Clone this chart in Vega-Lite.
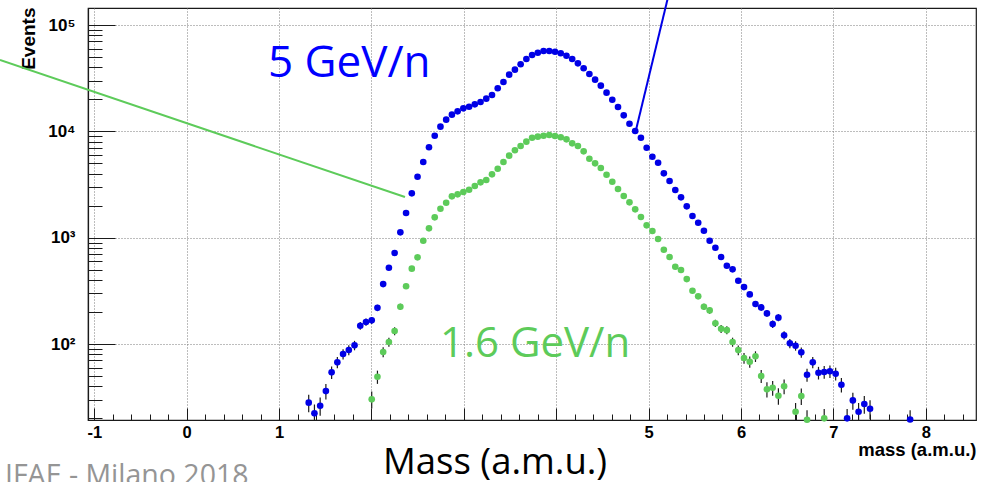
{
  "$schema": "https://vega.github.io/schema/vega-lite/v6.json",
  "width": 888,
  "height": 412,
  "autosize": {"type": "none"},
  "padding": {"left": 88, "top": 8, "right": 10, "bottom": 62},
  "background": "white",
  "config": {
    "view": {"stroke": "#1a1a1a", "strokeWidth": 1.2},
    "axis": {
      "labelFont": "Liberation Sans", "labelFontWeight": "bold", "labelColor": "#000000",
      "titleFont": "Liberation Sans", "titleFontWeight": "bold", "titleColor": "#000000",
      "domainColor": "#1a1a1a", "domainWidth": 1.2, "tickColor": "#1a1a1a", "tickWidth": 1,
      "gridColor": "#7a7a7a", "gridDash": [1, 2], "gridWidth": 1, "gridOpacity": 1
    }
  },
  "datasets": {
    "hist": [
      {"s":"b","x":1.321,"y":28.1,"lo":22.8,"hi":33.4},
      {"s":"b","x":1.383,"y":22.3,"lo":17.6,"hi":27.0},
      {"s":"b","x":1.445,"y":26.3,"lo":21.2,"hi":31.4},
      {"s":"b","x":1.507,"y":36.1,"lo":30.1,"hi":42.1},
      {"s":"b","x":1.569,"y":54.2,"lo":46.8,"hi":61.6},
      {"s":"b","x":1.631,"y":67.3,"lo":59.1,"hi":75.5},
      {"s":"b","x":1.693,"y":80.5,"lo":71.5,"hi":89.5},
      {"s":"b","x":1.755,"y":87.8,"lo":78.4,"hi":97.2},
      {"s":"b","x":1.817,"y":97.2,"lo":87.3,"hi":107.1},
      {"s":"b","x":1.879,"y":148.6,"lo":136.4,"hi":160.8},
      {"s":"b","x":1.941,"y":161,"lo":148.3,"hi":173.7},
      {"s":"b","x":2.003,"y":167,"lo":154.1,"hi":179.9},
      {"s":"b","x":2.065,"y":219,"lo":204.2,"hi":233.8},
      {"s":"b","x":2.127,"y":366},
      {"s":"b","x":2.189,"y":521},
      {"s":"b","x":2.251,"y":717},
      {"s":"b","x":2.313,"y":1122},
      {"s":"b","x":2.375,"y":1706},
      {"s":"b","x":2.437,"y":2612},
      {"s":"b","x":2.499,"y":3742},
      {"s":"b","x":2.561,"y":5150},
      {"s":"b","x":2.623,"y":7080},
      {"s":"b","x":2.685,"y":9100},
      {"s":"b","x":2.747,"y":11060},
      {"s":"b","x":2.809,"y":12870},
      {"s":"b","x":2.871,"y":14350},
      {"s":"b","x":2.933,"y":15420},
      {"s":"b","x":2.995,"y":16450},
      {"s":"b","x":3.057,"y":17050},
      {"s":"b","x":3.119,"y":17950},
      {"s":"b","x":3.181,"y":18870},
      {"s":"b","x":3.243,"y":20280},
      {"s":"b","x":3.305,"y":21970},
      {"s":"b","x":3.367,"y":25400},
      {"s":"b","x":3.429,"y":29100},
      {"s":"b","x":3.491,"y":34100},
      {"s":"b","x":3.553,"y":38000},
      {"s":"b","x":3.615,"y":42700},
      {"s":"b","x":3.677,"y":47900},
      {"s":"b","x":3.739,"y":52200},
      {"s":"b","x":3.801,"y":54900},
      {"s":"b","x":3.863,"y":56900},
      {"s":"b","x":3.925,"y":56900},
      {"s":"b","x":3.987,"y":56100},
      {"s":"b","x":4.049,"y":54200},
      {"s":"b","x":4.111,"y":51400},
      {"s":"b","x":4.173,"y":47900},
      {"s":"b","x":4.235,"y":43600},
      {"s":"b","x":4.297,"y":39200},
      {"s":"b","x":4.359,"y":34600},
      {"s":"b","x":4.421,"y":30600},
      {"s":"b","x":4.483,"y":26900},
      {"s":"b","x":4.545,"y":23100},
      {"s":"b","x":4.607,"y":19840},
      {"s":"b","x":4.669,"y":16940},
      {"s":"b","x":4.731,"y":14150},
      {"s":"b","x":4.793,"y":11800},
      {"s":"b","x":4.855,"y":10070},
      {"s":"b","x":4.917,"y":8710},
      {"s":"b","x":4.979,"y":7010},
      {"s":"b","x":5.041,"y":5770},
      {"s":"b","x":5.103,"y":5070},
      {"s":"b","x":5.165,"y":4030},
      {"s":"b","x":5.227,"y":3410},
      {"s":"b","x":5.289,"y":2806},
      {"s":"b","x":5.351,"y":2397},
      {"s":"b","x":5.413,"y":1972},
      {"s":"b","x":5.475,"y":1599},
      {"s":"b","x":5.537,"y":1383},
      {"s":"b","x":5.599,"y":1162},
      {"s":"b","x":5.661,"y":936},
      {"s":"b","x":5.723,"y":805},
      {"s":"b","x":5.785,"y":658},
      {"s":"b","x":5.847,"y":545},
      {"s":"b","x":5.909,"y":504},
      {"s":"b","x":5.971,"y":394},
      {"s":"b","x":6.033,"y":343},
      {"s":"b","x":6.095,"y":293},
      {"s":"b","x":6.157,"y":238,"lo":222.6,"hi":253.4},
      {"s":"b","x":6.219,"y":221,"lo":206.1,"hi":235.9},
      {"s":"b","x":6.281,"y":194,"lo":180.1,"hi":207.9},
      {"s":"b","x":6.343,"y":154,"lo":141.6,"hi":166.4},
      {"s":"b","x":6.405,"y":177,"lo":163.7,"hi":190.3},
      {"s":"b","x":6.467,"y":121,"lo":110.0,"hi":132.0},
      {"s":"b","x":6.529,"y":101.5,"lo":91.4,"hi":111.6},
      {"s":"b","x":6.591,"y":96.4,"lo":86.6,"hi":106.2},
      {"s":"b","x":6.653,"y":83.5,"lo":74.4,"hi":92.6},
      {"s":"b","x":6.715,"y":51.4,"lo":44.2,"hi":58.6},
      {"s":"b","x":6.777,"y":67.3,"lo":59.1,"hi":75.5},
      {"s":"b","x":6.839,"y":53.7,"lo":46.4,"hi":61.0},
      {"s":"b","x":6.901,"y":54.6,"lo":47.2,"hi":62.0},
      {"s":"b","x":6.963,"y":55.4,"lo":48.0,"hi":62.8},
      {"s":"b","x":7.025,"y":52.6,"lo":45.3,"hi":59.9},
      {"s":"b","x":7.087,"y":41.4,"lo":35.0,"hi":47.8},
      {"s":"b","x":7.149,"y":20.0,"lo":15.5,"hi":24.5},
      {"s":"b","x":7.211,"y":29.5,"lo":24.1,"hi":34.9},
      {"s":"b","x":7.273,"y":23.1,"lo":18.3,"hi":27.9},
      {"s":"b","x":7.335,"y":27.3,"lo":22.1,"hi":32.5},
      {"s":"b","x":7.397,"y":24.6,"lo":19.6,"hi":29.6},
      {"s":"b","x":7.831,"y":19.5,"lo":15.1,"hi":23.9},
      {"s":"g","x":2.003,"y":30.2,"lo":24.7,"hi":35.7},
      {"s":"g","x":2.065,"y":49.2,"lo":42.2,"hi":56.2},
      {"s":"g","x":2.127,"y":84.1,"lo":74.9,"hi":93.3},
      {"s":"g","x":2.189,"y":104.4,"lo":94.2,"hi":114.6},
      {"s":"g","x":2.251,"y":132.6,"lo":121.1,"hi":144.1},
      {"s":"g","x":2.313,"y":224,"lo":209,"hi":239},
      {"s":"g","x":2.375,"y":349},
      {"s":"g","x":2.437,"y":511},
      {"s":"g","x":2.499,"y":653},
      {"s":"g","x":2.561,"y":936},
      {"s":"g","x":2.623,"y":1224},
      {"s":"g","x":2.685,"y":1554},
      {"s":"g","x":2.747,"y":1871},
      {"s":"g","x":2.809,"y":2133},
      {"s":"g","x":2.871,"y":2449},
      {"s":"g","x":2.933,"y":2557},
      {"s":"g","x":2.995,"y":2687},
      {"s":"g","x":3.057,"y":2825},
      {"s":"g","x":3.119,"y":3060},
      {"s":"g","x":3.181,"y":3314},
      {"s":"g","x":3.243,"y":3484},
      {"s":"g","x":3.305,"y":3943},
      {"s":"g","x":3.367,"y":4453},
      {"s":"g","x":3.429,"y":5150},
      {"s":"g","x":3.491,"y":5906},
      {"s":"g","x":3.553,"y":6633},
      {"s":"g","x":3.615,"y":7278},
      {"s":"g","x":3.677,"y":7994},
      {"s":"g","x":3.739,"y":8710},
      {"s":"g","x":3.801,"y":8910},
      {"s":"g","x":3.863,"y":9100},
      {"s":"g","x":3.925,"y":9230},
      {"s":"g","x":3.987,"y":9030},
      {"s":"g","x":4.049,"y":8790},
      {"s":"g","x":4.111,"y":8410},
      {"s":"g","x":4.173,"y":7710},
      {"s":"g","x":4.235,"y":7278},
      {"s":"g","x":4.297,"y":6490},
      {"s":"g","x":4.359,"y":5530},
      {"s":"g","x":4.421,"y":5000},
      {"s":"g","x":4.483,"y":4520},
      {"s":"g","x":4.545,"y":3910},
      {"s":"g","x":4.607,"y":3360},
      {"s":"g","x":4.669,"y":2870},
      {"s":"g","x":4.731,"y":2466},
      {"s":"g","x":4.793,"y":2150},
      {"s":"g","x":4.855,"y":1848},
      {"s":"g","x":4.917,"y":1563},
      {"s":"g","x":4.979,"y":1306},
      {"s":"g","x":5.041,"y":1155},
      {"s":"g","x":5.103,"y":971},
      {"s":"g","x":5.165,"y":771},
      {"s":"g","x":5.227,"y":658},
      {"s":"g","x":5.289,"y":533},
      {"s":"g","x":5.351,"y":497},
      {"s":"g","x":5.413,"y":408},
      {"s":"g","x":5.475,"y":317},
      {"s":"g","x":5.537,"y":281},
      {"s":"g","x":5.599,"y":224,"lo":209,"hi":239},
      {"s":"g","x":5.661,"y":207,"lo":192.6,"hi":221.4},
      {"s":"g","x":5.723,"y":157,"lo":144.5,"hi":169.5},
      {"s":"g","x":5.785,"y":139,"lo":127.2,"hi":150.8},
      {"s":"g","x":5.847,"y":135,"lo":123.4,"hi":146.6},
      {"s":"g","x":5.909,"y":104.5,"lo":94.3,"hi":114.7},
      {"s":"g","x":5.971,"y":87.7,"lo":78.3,"hi":97.1},
      {"s":"g","x":6.033,"y":73.8,"lo":65.2,"hi":82.4},
      {"s":"g","x":6.095,"y":68.1,"lo":59.9,"hi":76.4},
      {"s":"g","x":6.157,"y":76.6,"lo":67.8,"hi":85.4},
      {"s":"g","x":6.219,"y":50.0,"lo":42.9,"hi":57.1},
      {"s":"g","x":6.281,"y":37.5,"lo":31.4,"hi":43.6},
      {"s":"g","x":6.343,"y":38.8,"lo":32.6,"hi":45.0},
      {"s":"g","x":6.405,"y":32.6,"lo":26.9,"hi":38.3},
      {"s":"g","x":6.467,"y":40.0,"lo":33.7,"hi":46.3},
      {"s":"g","x":6.591,"y":23.1,"lo":18.3,"hi":27.9},
      {"s":"g","x":6.653,"y":32.4,"lo":26.7,"hi":38.1},
      {"s":"g","x":6.715,"y":19.4,"lo":15.0,"hi":23.8},
      {"s":"g","x":6.901,"y":20.0,"lo":15.5,"hi":24.5}
    ],
    "pointers": [
      {"p":"g","x":-2.021,"y":46900},
      {"p":"g","x":2.363,"y":2410},
      {"p":"b","x":4.861,"y":10070},
      {"p":"b","x":5.216,"y":191400}
    ],
    "notes": [
      {"label":"5 GeV/n","x":0.88,"y":32200},
      {"label":"1.6 GeV/n","x":2.742,"y":75.0},
      {"label":"Mass (a.m.u.)","x":3.338,"y":6.05},
      {"label":"IFAE - Milano 2018","x":-1.967,"y":4.72}
    ]
  },
  "resolve": {"axis": {"x": "independent", "y": "independent"}},
  "layer": [
    {
      "data": {"name": "hist"},
      "transform": [{"filter": "isValid(datum.lo)"}],
      "mark": {"type": "rule", "color": "#1a1a1a", "strokeWidth": 1.2, "clip": true},
      "encoding": {
        "x": {"field": "x", "type": "quantitative",
          "scale": {"type": "linear", "domain": [-1.068, 8.544], "nice": false, "zero": false},
          "axis": {"orient": "bottom", "title": null, "labels": false, "grid": false, "domain": false,
            "tickSize": -6,
            "values": [-0.8,-0.6,-0.4,-0.2,0.2,0.4,0.6,0.8,1.2,1.4,1.6,1.8,2.2,2.4,2.6,2.8,3.2,3.4,3.6,3.8,4.2,4.4,4.6,4.8,5.2,5.4,5.6,5.8,6.2,6.4,6.6,6.8,7.2,7.4,7.6,7.8,8.2,8.4]}},
        "y": {"field": "lo", "type": "quantitative",
          "scale": {"type": "log", "domain": [19.3, 144500], "nice": false},
          "axis": {"orient": "left", "title": null, "labels": false, "grid": false, "domain": false,
            "tickSize": -14,
            "values": [20,30,40,50,60,70,80,90,200,300,400,500,600,700,800,900,2000,3000,4000,5000,6000,7000,8000,9000,20000,30000,40000,50000,60000,70000,80000,90000]}},
        "y2": {"field": "hi"}
      }
    },
    {
      "data": {"name": "hist"},
      "mark": {"type": "circle", "size": 44, "opacity": 1},
      "encoding": {
        "x": {"field": "x", "type": "quantitative",
          "scale": {"type": "linear", "domain": [-1.068, 8.544], "nice": false, "zero": false},
          "axis": {"orient": "bottom", "values": [-1,0,1,2,3,4,5,6,7,8], "tickSize": -12, "grid": true,
            "labelExpr": "datum.value >= 2 && datum.value <= 4 ? '' : '' + datum.value",
            "labelFontSize": 16.5, "labelPadding": 16.5, "labelOverlap": false, "labelFlush": false,
            "title": "mass (a.m.u.)", "titleFontSize": 18.5, "titleAnchor": "end", "titleAlign": "right",
            "titleBaseline": "alphabetic", "titleX": 888, "titleY": 35}},
        "y": {"field": "y", "type": "quantitative",
          "scale": {"type": "log", "domain": [19.3, 144500], "nice": false},
          "axis": {"orient": "left", "values": [100,1000,10000,100000], "tickSize": -27, "grid": true,
            "labelExpr": "datum.value == 100 ? '10²' : datum.value == 1000 ? '10³' : datum.value == 10000 ? '10⁴' : '10⁵'",
            "labelFontSize": 17, "labelPadding": 40, "labelBaseline": "middle", "labelOverlap": false,
            "title": "Events", "titleFontSize": 19, "titleAngle": -90, "titleAlign": "right",
            "titleBaseline": "alphabetic", "titleX": -54, "titleY": -1}},
        "color": {"field": "s", "type": "nominal",
          "scale": {"domain": ["b", "g"], "range": ["#0000e6", "#5dcb5a"]}, "legend": null}
      }
    },
    {
      "data": {"name": "pointers"},
      "mark": {"type": "line", "strokeWidth": 2, "clip": false},
      "encoding": {
        "x": {"field": "x", "type": "quantitative",
          "scale": {"type": "linear", "domain": [-1.068, 8.544], "nice": false, "zero": false}, "axis": null},
        "y": {"field": "y", "type": "quantitative",
          "scale": {"type": "log", "domain": [19.3, 144500], "nice": false}, "axis": null},
        "color": {"field": "p", "type": "nominal",
          "scale": {"domain": ["b", "g"], "range": ["#0000e6", "#5dcb5a"]}, "legend": null}
      }
    },
    {
      "data": {"name": "notes"},
      "transform": [{"filter": "datum.label == '5 GeV/n'"}],
      "mark": {"type": "text", "font": "Open Sans", "fontSize": 44, "color": "#0000ff", "align": "left", "baseline": "alphabetic"},
      "encoding": {
        "x": {"field": "x", "type": "quantitative", "scale": {"type": "linear", "domain": [-1.068, 8.544], "nice": false, "zero": false}, "axis": null},
        "y": {"field": "y", "type": "quantitative", "scale": {"type": "log", "domain": [19.3, 144500], "nice": false}, "axis": null},
        "text": {"field": "label"}
      }
    },
    {
      "data": {"name": "notes"},
      "transform": [{"filter": "datum.label == '1.6 GeV/n'"}],
      "mark": {"type": "text", "font": "Open Sans", "fontSize": 42, "color": "#5dcb5a", "align": "left", "baseline": "alphabetic"},
      "encoding": {
        "x": {"field": "x", "type": "quantitative", "scale": {"type": "linear", "domain": [-1.068, 8.544], "nice": false, "zero": false}, "axis": null},
        "y": {"field": "y", "type": "quantitative", "scale": {"type": "log", "domain": [19.3, 144500], "nice": false}, "axis": null},
        "text": {"field": "label"}
      }
    },
    {
      "data": {"name": "notes"},
      "transform": [{"filter": "datum.label == 'Mass (a.m.u.)'"}],
      "mark": {"type": "text", "font": "Open Sans", "fontSize": 36.5, "color": "#000000", "align": "center", "baseline": "alphabetic", "clip": false},
      "encoding": {
        "x": {"field": "x", "type": "quantitative", "scale": {"type": "linear", "domain": [-1.068, 8.544], "nice": false, "zero": false}, "axis": null},
        "y": {"field": "y", "type": "quantitative", "scale": {"type": "log", "domain": [19.3, 144500], "nice": false}, "axis": null},
        "text": {"field": "label"}
      }
    },
    {
      "data": {"name": "notes"},
      "transform": [{"filter": "datum.label == 'IFAE - Milano 2018'"}],
      "mark": {"type": "text", "font": "Open Sans", "fontSize": 28.5, "color": "#959595", "align": "left", "baseline": "alphabetic", "clip": false},
      "encoding": {
        "x": {"field": "x", "type": "quantitative", "scale": {"type": "linear", "domain": [-1.068, 8.544], "nice": false, "zero": false}, "axis": null},
        "y": {"field": "y", "type": "quantitative", "scale": {"type": "log", "domain": [19.3, 144500], "nice": false}, "axis": null},
        "text": {"field": "label"}
      }
    }
  ]
}
